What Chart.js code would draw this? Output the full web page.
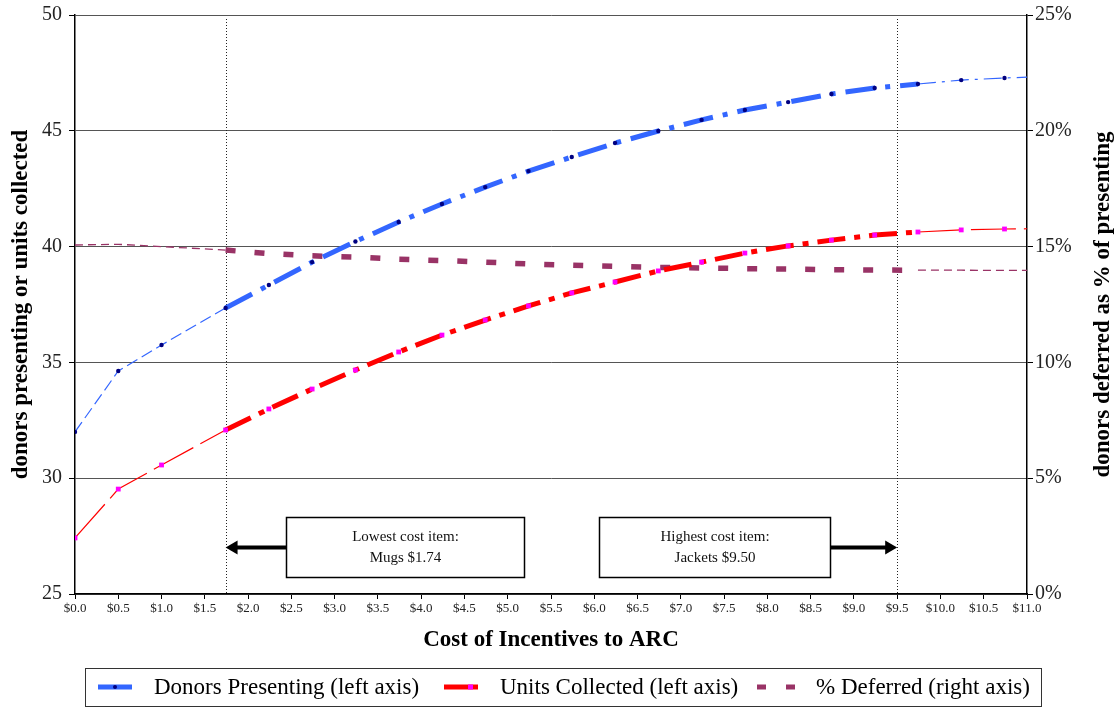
<!DOCTYPE html>
<html>
<head>
<meta charset="utf-8">
<script src="https://cdn.jsdelivr.net/npm/chart.js@4.4.0/dist/chart.umd.min.js"></script>
<style>
  html, body { margin: 0; padding: 0; background: #fff; }
  #wrap { width: 1119px; height: 709px; }
</style>
</head>
<body>
<div id="wrap"><canvas id="chart"></canvas></div>
<script>
// incentive cost per donor ($) - last point lies just past the axis so the lines run to the edge
const cost = [0, 0.5, 1.0, 1.74, 2.24, 2.74, 3.24, 3.74, 4.24, 4.74, 5.24, 5.74, 6.24, 6.74, 7.24, 7.74, 8.24, 8.74, 9.24, 9.74, 10.24, 10.74, 11.24]
const donorsPresenting = [32.0, 34.63, 35.75, 37.35, 38.34, 39.33, 40.22, 41.06, 41.84, 42.57, 43.26, 43.87, 44.47, 44.99, 45.47, 45.9, 46.24, 46.59, 46.85, 47.02, 47.19, 47.28, 47.35]
const unitsCollected = [27.42, 29.53, 30.57, 32.08, 32.99, 33.85, 34.67, 35.45, 36.18, 36.83, 37.44, 38.0, 38.47, 38.95, 39.33, 39.72, 40.03, 40.28, 40.5, 40.63, 40.72, 40.76, 40.78]
const pctDeferred = [15.07, 15.1, 15.0, 14.85, 14.7, 14.6, 14.55, 14.45, 14.4, 14.33, 14.25, 14.2, 14.15, 14.1, 14.08, 14.05, 14.03, 14.0, 13.99, 13.98, 13.98, 13.97, 13.97]
const seriesNames = ['Donors Presenting (left axis)', 'Units Collected (left axis)', '% Deferred (right axis)']
const leftTicks = [25, 30, 35, 40, 45, 50]
const rightTicks = [0, 5, 10, 15, 20, 25]

// price range of the incentive items
const lowestItem = 1.74
const highestItem = 9.5
const notes = [
    { text: ['Lowest cost item:', 'Mugs $1.74'], from: 2.44, to: 5.19, low: 25.73, high: 28.32, arrowTo: lowestItem },
    { text: ['Highest cost item:', 'Jackets $9.50'], from: 6.06, to: 8.72, low: 25.73, high: 28.32, arrowTo: highestItem }
]

const SERIF = '"Liberation Serif", "DejaVu Serif", serif'

const pts = (ys) => cost.map((x, i) => ({ x: x, y: ys[i] }))
const thick = ctx => ctx.p0.parsed.x >= lowestItem && ctx.p1.parsed.x <= 9.74
const early = ctx => ctx.p1.parsed.x <= lowestItem

const extras = {
    id: 'extras',
    beforeDatasetsDraw(chart) {
        const ctx = chart.ctx
        const { top, bottom } = chart.chartArea
        const x = chart.scales.x
        ctx.save()
        ctx.strokeStyle = '#222'
        ctx.lineWidth = 1
        ctx.setLineDash([1, 2])
        ;[lowestItem, highestItem].forEach(v => {
            const px = Math.round(x.getPixelForValue(v)) + 0.5
            ctx.beginPath()
            ctx.moveTo(px, top + 4)
            ctx.lineTo(px, bottom)
            ctx.stroke()
        })
        ctx.restore()
    },
    afterDatasetsDraw(chart) {
        const ctx = chart.ctx
        const x = chart.scales.x
        const y = chart.scales.y
        ctx.save()
        notes.forEach(n => {
            const l = Math.round(x.getPixelForValue(n.from)) + 0.5
            const r = Math.round(x.getPixelForValue(n.to)) + 0.5
            const t = Math.round(y.getPixelForValue(n.high)) + 0.5
            const b = Math.round(y.getPixelForValue(n.low)) + 0.5
            ctx.fillStyle = '#fff'
            ctx.fillRect(l, t, r - l, b - t)
            ctx.strokeStyle = '#000'
            ctx.lineWidth = 1.5
            ctx.strokeRect(l, t, r - l, b - t)
            ctx.fillStyle = '#111'
            ctx.font = '15px ' + SERIF
            ctx.textAlign = 'center'
            ctx.textBaseline = 'middle'
            const cx = (l + r) / 2, cy = (t + b) / 2
            ctx.fillText(n.text[0], cx, cy - 10)
            ctx.fillText(n.text[1], cx, cy + 11)

            // arrow from the box to the item line
            const tip = x.getPixelForValue(n.arrowTo)
            const start = n.arrowTo < n.from ? l : r
            const dir = tip < start ? -1 : 1
            ctx.strokeStyle = '#000'
            ctx.lineWidth = 4
            ctx.beginPath()
            ctx.moveTo(start, cy)
            ctx.lineTo(tip - dir * 10, cy)
            ctx.stroke()
            ctx.fillStyle = '#000'
            ctx.beginPath()
            ctx.moveTo(tip, cy)
            ctx.lineTo(tip - dir * 12, cy - 7)
            ctx.lineTo(tip - dir * 12, cy + 7)
            ctx.closePath()
            ctx.fill()
        })
        ctx.restore()
    },
    afterDraw(chart) {
        const ctx = chart.ctx
        const area = chart.chartArea
        ctx.save()
        // right axis title reads bottom to top like the left one
        ctx.translate(chart.width - 16, (area.top + area.bottom) / 2)
        ctx.rotate(-Math.PI / 2)
        ctx.font = 'bold 23px ' + SERIF
        ctx.fillStyle = '#000'
        ctx.textAlign = 'center'
        ctx.textBaseline = 'middle'
        ctx.fillText('donors deferred as % of presenting', 0, 0)
        ctx.restore()

        // boxed legend
        const top = 668, bottom = 706, left = 85, right = chart.width - 78
        const mid = (top + bottom) / 2
        ctx.save()
        ctx.strokeStyle = '#333'
        ctx.lineWidth = 1
        ctx.strokeRect(left + 0.5, top + 0.5, right - left, bottom - top)
        const slots = [98, 444, 757]
        const ds = chart.data.datasets
        slots.forEach((sx, i) => {
            const d = ds[i]
            ctx.strokeStyle = d.borderColor
            ctx.lineWidth = 5
            ctx.setLineDash(i === 2 ? [9, 20] : [])
            ctx.beginPath()
            ctx.moveTo(sx, mid)
            ctx.lineTo(sx + (i === 2 ? 38 : 34), mid)
            ctx.stroke()
            ctx.setLineDash([])
            if (i === 0) {
                ctx.fillStyle = d.pointBackgroundColor
                ctx.beginPath()
                ctx.arc(sx + 17, mid, 2, 0, Math.PI * 2)
                ctx.fill()
            } else if (i === 1) {
                ctx.fillStyle = d.pointBackgroundColor
                ctx.fillRect(sx + 24, mid - 2.5, 5, 5)
            }
            ctx.fillStyle = '#000'
            ctx.font = '23px ' + SERIF
            ctx.textAlign = 'left'
            ctx.textBaseline = 'middle'
            ctx.fillText(d.label, sx + (i === 2 ? 59 : 56), mid + 1)
        })
        ctx.restore()
    }
}

new Chart('chart', {
    type: 'line',
    data: {
        datasets: [
            {
                label: seriesNames[0],
                data: pts(donorsPresenting),
                yAxisID: 'y',
                borderColor: '#3366FF',
                borderWidth: 1.2,
                pointStyle: 'circle',
                pointRadius: 2.2,
                pointBorderWidth: 0,
                pointBackgroundColor: '#000080',
                segment: {
                    borderWidth: ctx => thick(ctx) ? 5 : 1.2,
                    borderDash: ctx => thick(ctx) ? [30, 10, 5, 10] : (early(ctx) ? [12, 5] : [18, 6, 3, 6])
                }
            },
            {
                label: seriesNames[1],
                data: pts(unitsCollected),
                yAxisID: 'y',
                borderColor: '#FF0000',
                borderWidth: 1.2,
                pointStyle: 'rect',
                pointRadius: 3.4,
                pointBorderWidth: 0,
                pointBackgroundColor: '#FF00FF',
                segment: {
                    borderWidth: ctx => thick(ctx) ? 5 : 1.2,
                    borderDash: ctx => thick(ctx) ? [28, 9, 6, 9] : [45, 8]
                }
            },
            {
                label: seriesNames[2],
                data: pts(pctDeferred),
                yAxisID: 'y2',
                borderColor: '#993366',
                borderWidth: 1.3,
                pointRadius: 0,
                segment: {
                    borderWidth: ctx => thick(ctx) ? 5.5 : 1.3,
                    borderDash: ctx => thick(ctx) ? [10, 19] : [8, 5]
                }
            }
        ]
    },
    options: {
        responsive: true,
        maintainAspectRatio: false,
        animation: false,
        layout: { padding: { top: 15, left: 0, right: 0, bottom: 0 } },
        plugins: {
            legend: { display: false },
            tooltip: { enabled: false }
        },
        scales: {
            x: {
                type: 'linear',
                min: 0,
                max: 11,
                afterFit: s => { s.height = 115 },
                ticks: {
                    stepSize: 0.5,
                    autoSkip: false,
                    maxRotation: 0,
                    padding: 2,
                    color: '#222',
                    font: { family: SERIF, size: 13 },
                    callback: v => '$' + Number(v).toFixed(1)
                },
                grid: { drawOnChartArea: false, tickLength: 5, color: '#000' },
                border: { color: '#000', width: 1.5 },
                title: {
                    display: true,
                    text: 'Cost of Incentives to ARC',
                    color: '#000',
                    font: { family: SERIF, size: 23, weight: 'bold' },
                    padding: { top: 0, bottom: 55 }
                }
            },
            y: {
                position: 'left',
                min: 25,
                max: 50,
                afterFit: s => { s.width = 75; s.paddingTop = 0; s.paddingBottom = 0 },
                afterBuildTicks: s => { s.ticks = leftTicks.map(v => ({ value: v })) },
                ticks: {
                    padding: 7,
                    color: '#222',
                    font: { family: SERIF, size: 20 }
                },
                grid: { color: '#555', lineWidth: 1, tickLength: 6, tickColor: '#000' },
                border: { color: '#000', width: 1.5 },
                title: {
                    display: true,
                    text: 'donors presenting or units collected',
                    color: '#000',
                    font: { family: SERIF, size: 23, weight: 'bold' },
                    padding: { top: 7, bottom: 0 }
                }
            },
            y2: {
                position: 'right',
                min: 0,
                max: 25,
                afterFit: s => { s.width = 92; s.paddingTop = 0; s.paddingBottom = 0 },
                afterBuildTicks: s => { s.ticks = rightTicks.map(v => ({ value: v })) },
                ticks: {
                    padding: 2,
                    color: '#222',
                    font: { family: SERIF, size: 20 },
                    callback: v => v + '%'
                },
                grid: { drawOnChartArea: false, tickLength: 6, color: '#000' },
                border: { color: '#000', width: 1.5 }
            }
        }
    },
    plugins: [extras]
})
</script>
</body>
</html>
